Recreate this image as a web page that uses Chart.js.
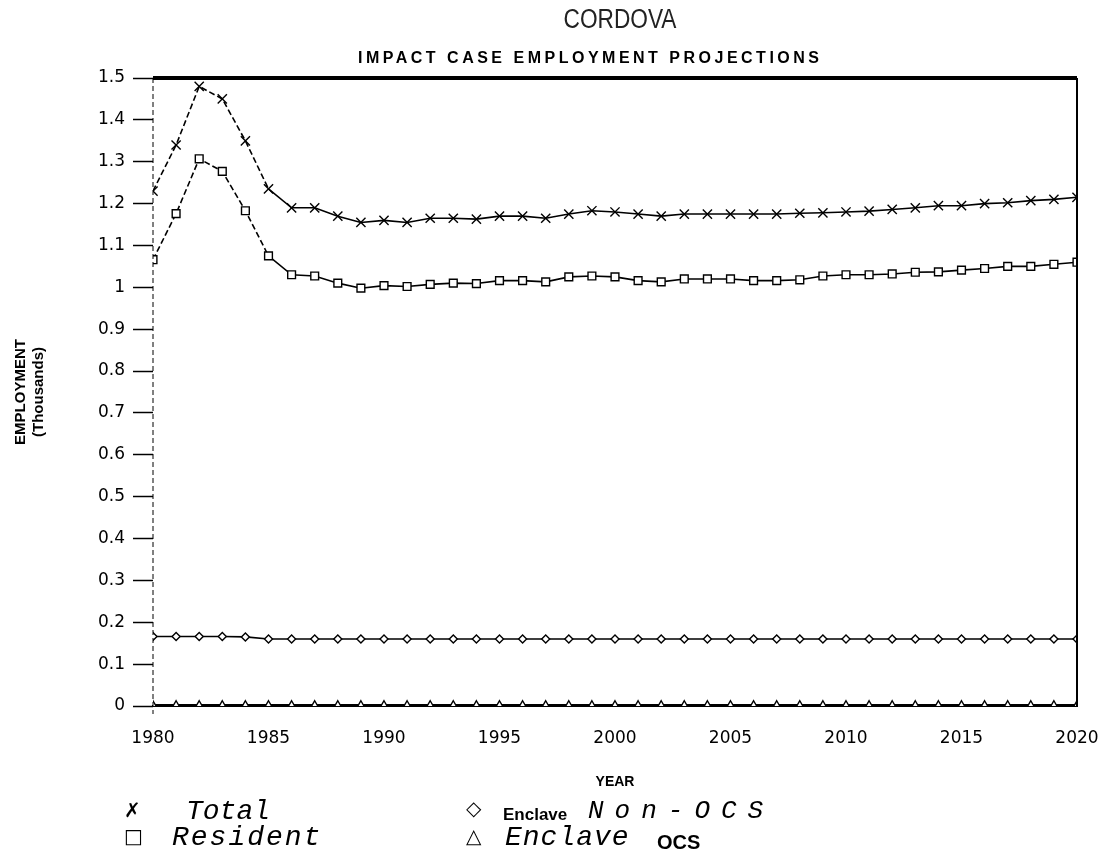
<!DOCTYPE html>
<html>
<head>
<meta charset="utf-8">
<script src="https://cdn.jsdelivr.net/npm/chart.js@4.4.1/dist/chart.umd.min.js"></script>
<style>
  body { margin: 0; background: #fff; }
  #wrap { position: relative; width: 1111px; height: 859px; overflow: hidden; }
  #chart { position: absolute; left: 0; top: 0; }
  .txt { position: absolute; color: #000; white-space: nowrap; line-height: 1; }
  .title { font-family: "Liberation Sans", Arial, sans-serif; font-size: 27px; color: #222;
           width: 200px; text-align: center; transform: scaleX(0.84); }
  .sub { font-family: "Liberation Sans", Arial, sans-serif; font-size: 16px; font-weight: bold; letter-spacing: 3.5px; }
  .mono { font-family: "Liberation Mono", "DejaVu Sans Mono", monospace; font-style: italic; font-size: 28px; }
  .small { font-family: "Liberation Sans", Arial, sans-serif; font-weight: bold; font-size: 17px; }
  .sym { font-family: "DejaVu Sans", sans-serif; font-size: 20px; font-weight: bold; }
</style>
</head>
<body>
<div id="wrap">
  <canvas id="chart" width="1111" height="859"></canvas>
  <div class="txt title" style="left:520px; top:6px;">CORDOVA</div>
  <div class="txt sub" style="left:358px; top:50px;">IMPACT CASE EMPLOYMENT PROJECTIONS</div>

  <div class="txt sym" style="left:124px; top:800px;">✗</div>
  <div class="txt mono" style="left:186px; top:798px;">Total</div>
  <div class="txt sym" style="left:124px; top:826px;">□</div>
  <div class="txt mono" style="left:172px; top:824px; letter-spacing:2px;">Resident</div>

  <div class="txt sym" style="left:466px; top:798px;">◇</div>
  <div class="txt small" style="left:503px; top:806px;">Enclave</div>
  <div class="txt mono" style="left:588px; top:798px; font-size:26px; letter-spacing:11px;">Non-OCS</div>
  <div class="txt sym" style="left:466px; top:826px;">△</div>
  <div class="txt mono" style="left:505px; top:824px; letter-spacing:1px;">Enclave</div>
  <div class="txt small" style="left:657px; top:832px; font-size:20px;">OCS</div>
</div>
<script>
// CORDOVA impact case employment projections (thousands)
const years = [1980, 1981, 1982, 1983, 1984, 1985, 1986, 1987, 1988, 1989,
  1990, 1991, 1992, 1993, 1994, 1995, 1996, 1997, 1998, 1999,
  2000, 2001, 2002, 2003, 2004, 2005, 2006, 2007, 2008, 2009,
  2010, 2011, 2012, 2013, 2014, 2015, 2016, 2017, 2018, 2019, 2020];

const total = [1.23, 1.34, 1.48, 1.45, 1.35, 1.235, 1.19, 1.19, 1.17, 1.155,
  1.16, 1.155, 1.165, 1.165, 1.163, 1.17, 1.17, 1.165, 1.175, 1.183,
  1.18, 1.175, 1.17, 1.175, 1.175, 1.175, 1.175, 1.175, 1.177, 1.178,
  1.18, 1.182, 1.186, 1.19, 1.195, 1.195, 1.2, 1.202, 1.207, 1.21, 1.215];

const resident = [1.066, 1.176, 1.307, 1.277, 1.183, 1.075, 1.03, 1.027, 1.01, 0.998,
  1.004, 1.002, 1.007, 1.01, 1.009, 1.016, 1.016, 1.013, 1.025, 1.027,
  1.025, 1.016, 1.013, 1.02, 1.02, 1.02, 1.016, 1.016, 1.018, 1.027,
  1.03, 1.03, 1.032, 1.036, 1.037, 1.041, 1.045, 1.05, 1.05, 1.055, 1.06];

const enclaveNonOcs = [0.166, 0.166, 0.166, 0.166, 0.165, 0.16, 0.16, 0.16, 0.16, 0.16,
  0.16, 0.16, 0.16, 0.16, 0.16, 0.16, 0.16, 0.16, 0.16, 0.16,
  0.16, 0.16, 0.16, 0.16, 0.16, 0.16, 0.16, 0.16, 0.16, 0.16,
  0.16, 0.16, 0.16, 0.16, 0.16, 0.16, 0.16, 0.16, 0.16, 0.16, 0.16];

const enclaveOcs = [0.003, 0.003, 0.003, 0.003, 0.003, 0.003, 0.003, 0.003, 0.003, 0.003,
  0.003, 0.003, 0.003, 0.003, 0.003, 0.003, 0.003, 0.003, 0.003, 0.003,
  0.003, 0.003, 0.003, 0.003, 0.003, 0.003, 0.003, 0.003, 0.003, 0.003,
  0.003, 0.003, 0.003, 0.003, 0.003, 0.003, 0.003, 0.003, 0.003, 0.003, 0.003];

const yTicks = [0, 0.1, 0.2, 0.3, 0.4, 0.5, 0.6, 0.7, 0.8, 0.9, 1, 1.1, 1.2, 1.3, 1.4, 1.5];
const xTicks = [1980, 1985, 1990, 1995, 2000, 2005, 2010, 2015, 2020];

function points(values) {
  return years.map((yr, i) => ({ x: yr, y: values[i] }));
}

// the early part of the curves is drawn dashed in the original plot
const earlyDash = { borderDash: ctx => ctx.p0DataIndex < 5 ? [6, 3] : undefined };

function series(label, values, style, radius, dashed) {
  return {
    label: label,
    data: points(values),
    borderColor: '#000',
    backgroundColor: '#fff',
    borderWidth: 1.6,
    pointStyle: style,
    pointRadius: radius,
    pointBorderWidth: 1.4,
    pointBorderColor: '#000',
    pointBackgroundColor: '#fff',
    tension: 0,
    segment: dashed ? earlyDash : {}
  };
}

// frame: thick top edge, right edge, dashed left axis
const frame = {
  id: 'frame',
  afterDatasetsDraw(chart) {
    const { ctx, chartArea: a } = chart;
    ctx.save();
    ctx.strokeStyle = '#000';
    ctx.lineWidth = 4;
    ctx.beginPath();
    ctx.moveTo(a.left, a.top);
    ctx.lineTo(a.right, a.top);
    ctx.stroke();
    ctx.lineWidth = 2;
    ctx.beginPath();
    ctx.moveTo(a.right, a.top);
    ctx.lineTo(a.right, a.bottom);
    ctx.stroke();
    ctx.lineWidth = 1;
    ctx.setLineDash([5, 3]);
    ctx.beginPath();
    ctx.moveTo(a.left, a.top);
    ctx.lineTo(a.left, a.bottom + 8);
    ctx.stroke();
    ctx.restore();
  }
};

const tickFont = { family: '"DejaVu Sans", sans-serif', size: 17 };

new Chart(document.getElementById('chart'), {
  type: 'line',
  data: {
    datasets: [
      series('Total', total, 'crossRot', 6.5, true),
      series('Resident', resident, 'rect', 5.5, true),
      series('Enclave Non-OCS', enclaveNonOcs, 'rectRot', 4, false),
      series('Enclave OCS', enclaveOcs, 'triangle', 4, false)
    ]
  },
  options: {
    responsive: false,
    animation: false,
    layout: { padding: { top: 78, right: 34, bottom: 68, left: 0 } },
    plugins: {
      legend: { display: false },
      tooltip: { enabled: false }
    },
    scales: {
      x: {
        type: 'linear',
        min: 1980,
        max: 2020,
        afterBuildTicks: axis => { axis.ticks = xTicks.map(v => ({ value: v })); },
        afterFit: axis => { axis.height = 85; axis.paddingRight = 0; axis.paddingLeft = 0; },
        ticks: {
          color: '#000',
          font: tickFont,
          padding: 4,
          maxRotation: 0,
          callback: v => String(v)
        },
        // invisible tick marks only push the year labels down from the axis
        grid: { drawOnChartArea: false, drawTicks: true, tickLength: 18, color: 'rgba(0,0,0,0)' },
        border: { color: '#000', width: 2 },
        title: {
          display: true,
          text: 'YEAR',
          color: '#000',
          font: { family: '"Liberation Sans", Arial, sans-serif', size: 14, weight: 'bold' },
          padding: { top: 0, bottom: 0 }
        }
      },
      y: {
        min: 0,
        max: 1.5,
        afterBuildTicks: axis => { axis.ticks = yTicks.map(v => ({ value: v })); },
        afterFit: axis => { axis.width = 153; },
        ticks: {
          color: '#000',
          font: tickFont,
          padding: 8,
          callback: v => String(Math.round(v * 10) / 10)
        },
        grid: { drawOnChartArea: false, tickLength: 20, color: '#000', tickWidth: 1.5 },
        border: { display: false },
        title: {
          display: true,
          text: ['EMPLOYMENT', '(Thousands)'],
          color: '#000',
          font: { family: '"Liberation Sans", Arial, sans-serif', size: 15, weight: 'bold' },
          padding: { top: 12, bottom: 0 }
        }
      }
    }
  },
  plugins: [frame]
});
</script>
</body>
</html>
